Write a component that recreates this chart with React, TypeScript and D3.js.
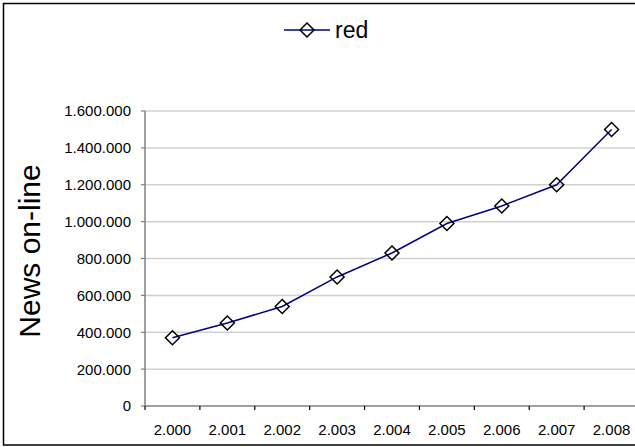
import React from "react";
import * as d3 from "d3";

const categories = ["2.000", "2.001", "2.002", "2.003", "2.004", "2.005", "2.006", "2.007", "2.008"];
const seriesName = "red";
const values = [370000, 450000, 540000, 700000, 830000, 990000, 1085000, 1200000, 1500000];
const yTicks = [0, 200000, 400000, 600000, 800000, 1000000, 1200000, 1400000, 1600000];
const yTitle = "News on-line";

const W = 635;
const H = 447;
const FONT = "'Liberation Sans', Arial, sans-serif";

const locale = d3.formatLocale({ decimal: ",", thousands: ".", grouping: [3], currency: ["", ""] });
const fmt = locale.format(",");

export default function App() {
  const plotLeft = 145;
  const plotRight = 639;
  const plotTop = 111;
  const plotBottom = 406;

  const x = d3.scaleBand<string>().domain(categories).range([plotLeft, plotRight]).paddingInner(0).paddingOuter(0);
  const y = d3.scaleLinear().domain([0, 1600000]).range([plotBottom, plotTop]);
  const cx = (c: string) => (x(c) as number) + x.bandwidth() / 2;

  const line = d3
    .line<number>()
    .x((_, i) => cx(categories[i]))
    .y((d) => y(d));

  const diamond = (px: number, py: number, r: number) =>
    `M${px},${py - r}L${px + r},${py}L${px},${py + r}L${px - r},${py}Z`;

  const boundaries = categories.map((c) => x(c) as number).concat([plotRight]);

  return (
    <svg width={W} height={H} style={{ position: "absolute", left: 0, top: 0, background: "#fff" }} fontFamily={FONT}>
      <rect x={0} y={0} width={W} height={H} fill="#fff" />
      <rect x={3.5} y={3.5} width={700} height={441.5} fill="none" stroke="#000" strokeWidth={1.5} />

      {/* gridlines */}
      {yTicks.filter((t) => t > 0).map((t) => (
        <line key={"g" + t} x1={plotLeft} x2={plotRight} y1={y(t)} y2={y(t)} stroke="#d0d0d0" strokeWidth={1.5} />
      ))}

      {/* y axis */}
      <line x1={plotLeft} x2={plotLeft} y1={plotTop} y2={plotBottom} stroke="#808080" strokeWidth={1.5} />
      {yTicks.map((t) => (
        <g key={"yt" + t}>
          <line x1={plotLeft - 4} x2={plotLeft} y1={y(t)} y2={y(t)} stroke="#808080" strokeWidth={1.2} />
          <text x={131} y={y(t)} dy="0.36em" textAnchor="end" fontSize={15} fill="#000">
            {fmt(t)}
          </text>
        </g>
      ))}

      {/* x axis */}
      <line x1={plotLeft} x2={plotRight} y1={plotBottom} y2={plotBottom} stroke="#808080" strokeWidth={1.5} />
      {boundaries.map((b, i) => (
        <line key={"xt" + i} x1={b} x2={b} y1={plotBottom} y2={plotBottom + 4} stroke="#000" strokeWidth={1.2} />
      ))}
      {categories.map((c) => (
        <text key={"xl" + c} x={cx(c)} y={435} textAnchor="middle" fontSize={15} fill="#000">
          {c}
        </text>
      ))}

      {/* y title */}
      <text transform={`translate(40,251) rotate(-90)`} textAnchor="middle" fontSize={30} fill="#000">
        {yTitle}
      </text>

      {/* series */}
      <path d={line(values) || ""} fill="none" stroke="#000080" strokeWidth={1.5} />
      {values.map((v, i) => (
        <path key={"m" + i} d={diamond(cx(categories[i]), y(v), 7)} fill="none" stroke="#000" strokeWidth={1.5} />
      ))}

      {/* legend */}
      <line x1={284} x2={330} y1={30} y2={30} stroke="#000080" strokeWidth={1.5} />
      <path d={diamond(307, 30, 7)} fill="none" stroke="#000" strokeWidth={1.5} />
      <text x={335} y={37.5} fontSize={23} fill="#000">
        {seriesName}
      </text>
    </svg>
  );
}
